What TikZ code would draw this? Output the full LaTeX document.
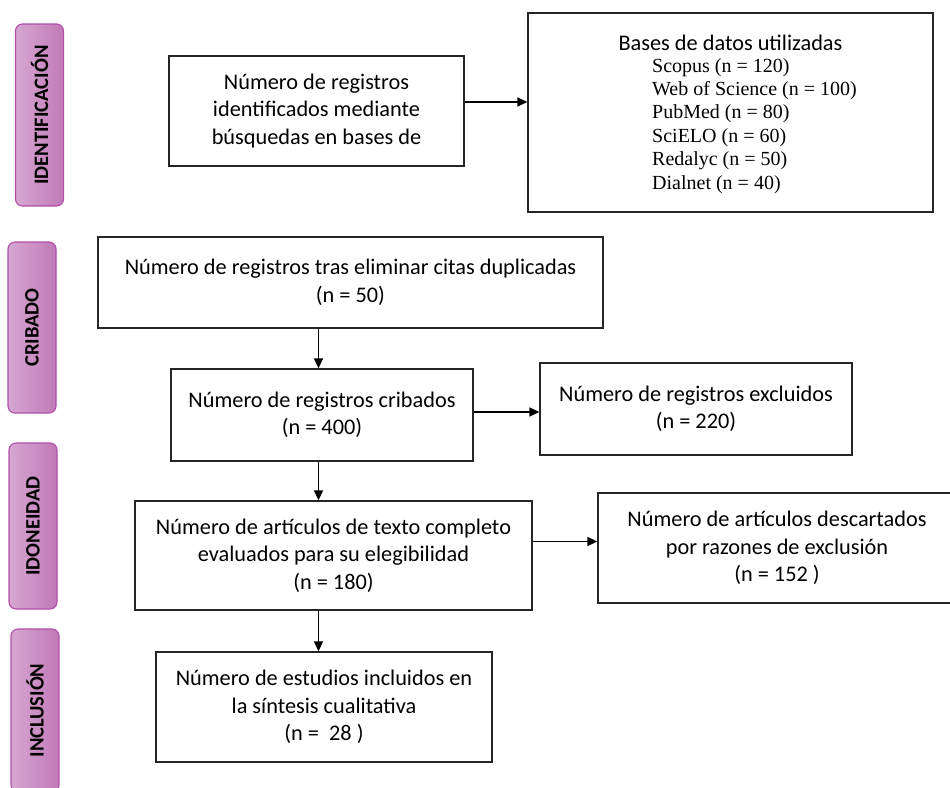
\documentclass[tikz,border=0pt]{standalone}
\usepackage{fontspec}
\setmainfont{Carlito}
\newfontfamily\timesfont{Liberation Serif}
\usetikzlibrary{arrows.meta,positioning,calc}

\definecolor{phaseL}{HTML}{D6A7D1}
\definecolor{phaseR}{HTML}{C17AB8}
\definecolor{phaseline}{HTML}{B14FA9}

\tikzset{
  box/.style={draw=black!85, line width=1.3pt, align=center, inner sep=0pt,
    font=\fontsize{22.3}{27.5}\selectfont},
  phase/.style={draw=phaseline, line width=1.1pt, rounded corners=7pt, rotate=90,
    left color=phaseL, right color=phaseR, minimum height=48pt,
    font=\fontsize{20.5}{24}\selectfont\bfseries},
  arr/.style={line width=1.5pt, -{Triangle[length=10pt,width=9pt]}},
  dbtext/.style={font=\timesfont\fontsize{20}{23}\selectfont, inner sep=0pt}
}

\begin{document}
\begin{tikzpicture}[x=1pt,y=-1pt]
\useasboundingbox (0,0) rectangle (950,787);

% phase labels
\node[phase, minimum width=182pt] (pident) at (39.5,115) {IDENTIFICACIÓN};
\node[phase, minimum width=171pt] (pcrib) at (32,327.5) {CRIBADO};
\node[phase, minimum width=166pt] (pidon) at (33,526) {IDONEIDAD};
\node[phase, minimum width=163pt] (pincl) at (35,710.5) {INCLUSIÓN};

% identification
\node[box, minimum width=295pt, minimum height=110pt] (ident) at (316.5,111)
  {Número de registros\\identificados mediante\\búsquedas en bases de};
\node[box, minimum width=405pt, minimum height=199pt] (bases) at (730.5,112.5) {};
\node[anchor=base, inner sep=0pt, font=\fontsize{22.3}{27.5}\selectfont] (basestitle) at (730.5,50) {Bases de datos utilizadas};
\foreach \db [count=\i] in {Scopus (n = 120), Web of Science (n = 100), PubMed (n = 80),
    SciELO (n = 60), Redalyc (n = 50), Dialnet (n = 40)}
  \node[dbtext, anchor=base west] (db\i) at (652,{72+23.4*(\i-1)}) {\db};

% screening
\node[box, minimum width=505pt, minimum height=91pt] (dup) at (350.5,282.5)
  {Número de registros tras eliminar citas duplicadas\\(n = 50)};
\node[box, minimum width=302pt, minimum height=92pt] (crib) at (322,415)
  {Número de registros cribados\\(n = 400)};
\node[box, minimum width=312pt, minimum height=92pt] (excl) at (696,409)
  {Número de registros excluidos\\(n = 220)};

% eligibility
\node[box, minimum width=397pt, minimum height=109pt] (full) at (333.5,555.5)
  {Número de artículos de texto completo\\evaluados para su elegibilidad\\(n = 180)};
\node[box, minimum width=358pt, minimum height=110pt] (desc) at (777,548)
  {Número de artículos descartados\\por razones de exclusión\\(n = 152 )};

% inclusion
\node[box, minimum width=336pt, minimum height=110pt] (incl) at (324,707)
  {Número de estudios incluidos en\\la síntesis cualitativa\\(n =~ 28 )};

% arrows
\coordinate (spine) at (318.5,0);
\draw[arr] ([yshift=9pt]ident.east) -- ([yshift=9pt]ident.east -| bases.west);
\draw[arr] (dup.south -| spine) -- (crib.north -| spine);
\draw[arr] ([yshift=3pt]crib.east) -- ([yshift=3pt]crib.east -| excl.west);
\draw[arr] (crib.south -| spine) -- (full.north -| spine);
\draw[arr] ([yshift=14pt]full.east) -- ([yshift=14pt]full.east -| desc.west);
\draw[arr] (full.south -| spine) -- (incl.north -| spine);
\end{tikzpicture}
\end{document}
